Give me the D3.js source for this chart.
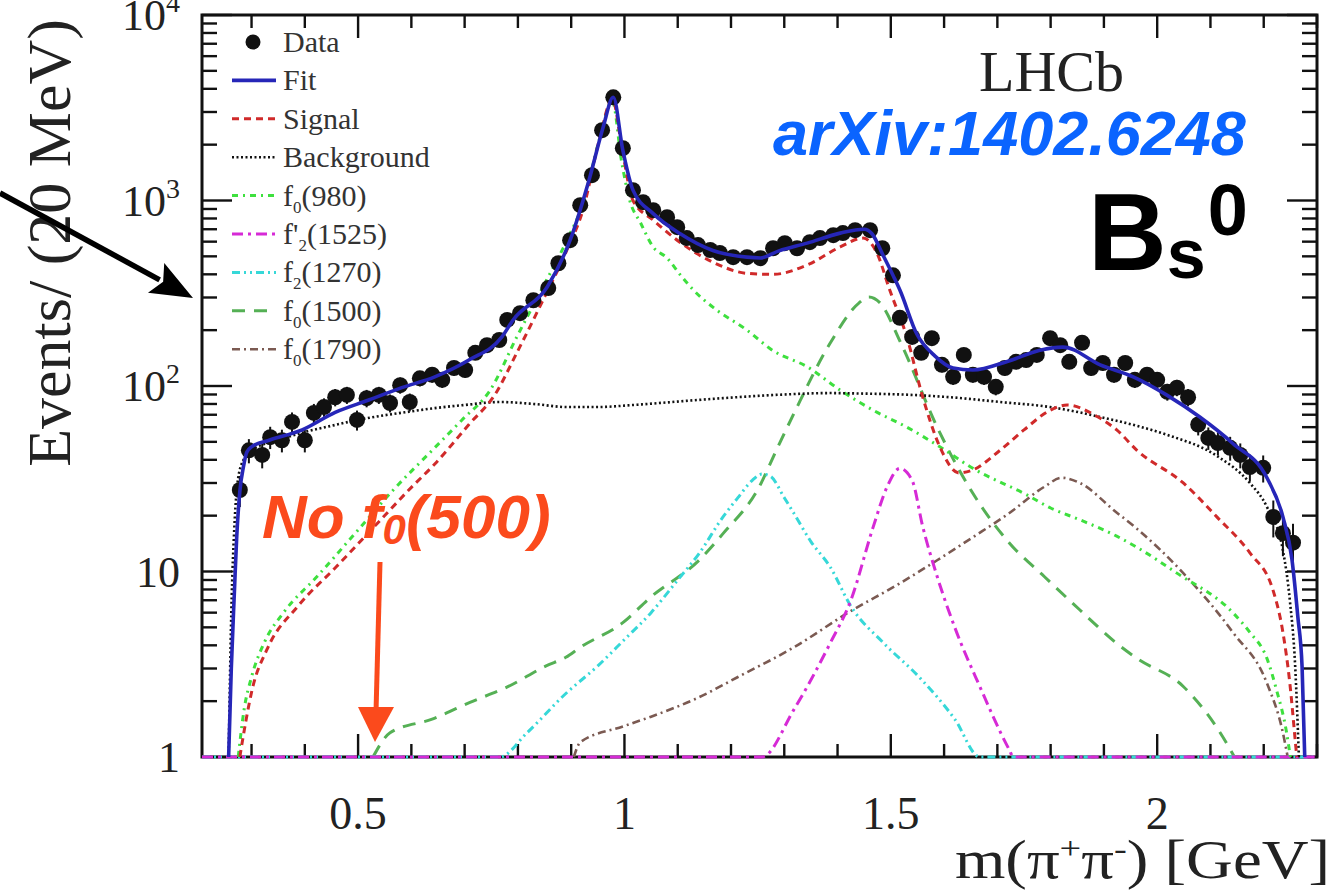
<!DOCTYPE html>
<html><head><meta charset="utf-8">
<script src="https://cdn.jsdelivr.net/npm/d3@7"></script>
<style>body{margin:0;background:#fff} svg{display:block}</style>
</head><body>
<svg id="c" width="1339" height="892"></svg>
<script>
// ---------------- DATA ----------------
const dataMass = [0.278,0.295,0.320,0.335,0.357,0.376,0.400,0.417,0.436,0.457,0.479,0.498,0.516,0.539,0.560,0.579,0.597,0.616,0.639,0.658,0.680,0.701,0.720,0.742,0.765,0.780,0.804,0.829,0.857,0.876,0.898,0.917,0.939,0.958,0.979,0.997,1.016,1.035,1.054,1.080,1.099,1.117,1.138,1.161,1.179,1.204,1.230,1.255,1.279,1.301,1.324,1.348,1.367,1.392,1.410,1.433,1.461,1.484,1.504,1.517,1.540,1.557,1.577,1.596,1.617,1.637,1.654,1.675,1.697,1.714,1.735,1.754,1.774,1.799,1.818,1.835,1.859,1.876,1.898,1.919,1.940,1.958,1.981,2.000,2.019,2.037,2.058,2.077,2.096,2.114,2.137,2.156,2.174,2.199,2.218,2.236,2.255];
const dataEvents = [27.5,45,42.5,53,51,64,51,71.6,77,87,89.5,65.6,86,89.5,81,101,82,110,115,108,125,122,151,166,177,227,247,290,337,459,611,944,1370,2393,3600,1915,1137,980,887,813,718,627,575,541,521,495,495,489,553,589,553,596,627,650,667,692,692,553,395,233,184,151,181,130,112,147,115,112,99,125,135,138,147,181,166,135,171,125,133,115,133,108,115,108,93,98,87,62,52.5,49.3,46.4,42.5,36.6,36.2,19.7,16.1,14.3];

const fitMass   = [0.257,0.262,0.268,0.272,0.278,0.285,0.291,0.300,0.333,0.395,0.457,0.520,0.582,0.644,0.708,0.770,0.791,0.855,0.898,0.935,0.960,0.979,0.997,1.016,1.054,1.104,1.166,1.230,1.255,1.290,1.343,1.405,1.450,1.465,1.485,1.506,1.517,1.549,1.583,1.617,1.654,1.720,1.780,1.823,1.893,1.955,2.019,2.080,2.142,2.206,2.236,2.253,2.264,2.272,2.277];
const fitEvents = [1,3,8,15,27,37,44,47,51,58,72,84,98,112,138,184,227,342,611,1336,2485,3600,1862,1137,850,664,538,495,490,535,589,667,700,660,510,385,329,190,145,125,122,136,156,162,130,112,89,68,49,32,19.7,11.6,5.7,3.06,1];

const signalMass   = [0.278,0.290,0.301,0.329,0.387,0.459,0.530,0.601,0.644,0.708,0.757,0.798,0.847,0.892,0.922,0.954,0.977,0.997,1.016,1.054,1.104,1.166,1.230,1.279,1.343,1.405,1.448,1.474,1.498,1.530,1.560,1.592,1.628,1.654,1.705,1.750,1.799,1.831,1.889,1.924,1.962,2.049,2.112,2.174,2.217,2.236,2.249,2.259,2.262];
const signalEvents = [1,1.6,2.3,3.8,6.5,10.6,17.4,28.6,38,62,90,151,290,541,887,2190,3540,1780,1000,784,596,465,405,400,449,562,627,520,329,184,87,47,34,35.3,45,58,74,79,68,58,45,30,19.7,12.6,8,4.7,2.5,1.24,1];

const bkgMass   = [0.257,0.262,0.268,0.275,0.285,0.300,0.350,0.391,0.450,0.504,0.600,0.644,0.700,0.766,0.830,0.892,0.950,1.016,1.136,1.185,1.300,1.386,1.450,1.520,1.611,1.705,1.799,1.855,1.893,1.962,2.019,2.112,2.174,2.206,2.236,2.249,2.259,2.266];
const bkgEvents = [1,6,18,32,40,45,51,55.6,61,66,73,76,79,82,80,77,77,79,84,86,90,91.6,91,90,87,82,77,72,68,61,54.5,42,30,22.3,13,7,3.1,1];

const f980Mass   = [0.275,0.286,0.300,0.325,0.360,0.423,0.494,0.566,0.639,0.695,0.748,0.798,0.847,0.892,0.922,0.954,0.977,0.995,1.010,1.030,1.054,1.080,1.104,1.129,1.166,1.230,1.279,1.343,1.405,1.467,1.530,1.592,1.654,1.754,1.800,1.855,1.924,1.962,2.037,2.142,2.174,2.206,2.224,2.243,2.250];
const f980Events = [1,1.8,2.7,4.2,6.0,9.4,16,27.5,45,65.6,95,184,342,611,962,2190,3450,1600,1000,760,561,490,400,330,266,200,155,127,95,74,60,47,36,26,22,19,15.5,13.5,9.8,6,4.7,3.4,2.3,1.35,1];

const f1525Mass   = [0.207,1.258,1.318,1.386,1.425,1.467,1.493,1.517,1.540,1.560,1.587,1.620,1.667,1.722,1.730,2.300];
const f1525Events = [1,1,1.8,4.1,7,17.4,28.6,36,31,17.4,9.4,5.0,2.4,1.1,1,1];

const f1270Mass   = [0.207,0.766,0.817,0.890,0.950,1.000,1.050,1.100,1.140,1.185,1.213,1.240,1.258,1.274,1.300,1.318,1.350,1.386,1.425,1.487,1.553,1.620,1.667,2.300];
const f1270Events = [1,1,1.35,2.2,3.1,4.3,6,9,12.5,19.7,25,31,33.5,32.6,25,20.6,14.5,10.6,6.5,4.1,2.7,1.6,1,1];

const f1500Mass   = [0.528,0.560,0.639,0.710,0.782,0.853,0.890,0.917,0.997,1.050,1.140,1.185,1.253,1.285,1.318,1.386,1.440,1.459,1.480,1.519,1.587,1.654,1.722,1.788,1.855,1.924,1.962,2.049,2.137,2.145];
const f1500Events = [1,1.35,1.6,1.97,2.4,3.1,3.45,3.9,5.3,7.3,11.5,16,28.6,45,71,170,280,302,280,170,60,26.4,14.3,9.4,6.2,4.1,3.4,2.4,1.1,1];

const f1790Mass   = [0.905,0.917,0.997,1.050,1.140,1.213,1.318,1.420,1.519,1.587,1.654,1.722,1.788,1.821,1.855,1.922,1.962,2.049,2.142,2.206,2.236,2.245];
const f1790Events = [1,1.2,1.46,1.65,2.1,2.7,3.9,6,8.7,11.5,15.3,20.6,28.6,32,30,21,17,9.8,4.7,2.5,1.35,1];

const xTickValues = [0.5, 1, 1.5, 2];
const xTickLabels = ["0.5", "1", "1.5", "2"];
const yTickValues = [1, 10, 100, 1000, 10000];
const yTickBase   = ["1", "10", "10", "10", "10"];
const yTickExp    = ["", "", "2", "3", "4"];

const legendKeys   = ["data","fit","signal","bkg","f980","f1525","f1270","f1500","f1790"];
const legendMain   = ["Data","Fit","Signal","Background","f","f'","f","f","f"];
const legendSub    = ["","","","","0","2","2","0","0"];
const legendTail   = ["","","","","(980)","(1525)","(1270)","(1500)","(1790)"];

// ---------------- STYLES ----------------
const styles = {
  fit:    {color:"#2626b8", width:3.6, dash:null},
  signal: {color:"#d02a2a", width:3, dash:"7,5"},
  bkg:    {color:"#111111", width:2.6, dash:"2,2.5"},
  f980:   {color:"#3ee03e", width:3, dash:"6,5,2,5"},
  f1525:  {color:"#d62ad6", width:3, dash:"11,5,3,5"},
  f1270:  {color:"#36d8d8", width:3, dash:"8,4,2,4,2,4"},
  f1500:  {color:"#55b055", width:3, dash:"13,9"},
  f1790:  {color:"#7b5a52", width:2.6, dash:"8,4,2,4"}
};

const svg = d3.select("#c");
const L = 202, R = 1317, T = 15, B = 757;
const x = d3.scaleLinear().domain([0.207, 2.3]).range([L, R]);
const y = d3.scaleLog().domain([1, 1e4]).range([B, T]);

svg.append("rect").attr("width",1339).attr("height",892).attr("fill","#fff");

svg.append("defs").append("clipPath").attr("id","clip")
  .append("rect").attr("x",L).attr("y",T-2).attr("width",R-L).attr("height",B-T+4);

// frame
svg.append("rect").attr("x",L).attr("y",T).attr("width",R-L).attr("height",B-T)
  .attr("fill","none").attr("stroke","#111").attr("stroke-width",3);

// ticks
const tickG = svg.append("g").attr("stroke","#111").attr("stroke-width",2.4);
const xt = x.ticks(20);
xt.forEach(v=>{
  const major = Math.abs(v*2 - Math.round(v*2)) < 1e-6;
  const len = major ? 23 : 13;
  tickG.append("line").attr("x1",x(v)).attr("x2",x(v)).attr("y1",B).attr("y2",B-len);
  tickG.append("line").attr("x1",x(v)).attr("x2",x(v)).attr("y1",T).attr("y2",T+len);
});
const yt = y.ticks();
yt.forEach(v=>{
  const major = Math.abs(Math.log10(v) - Math.round(Math.log10(v))) < 1e-6;
  const len = major ? 30 : 15;
  tickG.append("line").attr("x1",L).attr("x2",L+len).attr("y1",y(v)).attr("y2",y(v));
  tickG.append("line").attr("x1",R).attr("x2",R-len).attr("y1",y(v)).attr("y2",y(v));
});

// tick labels
const serif = "'Liberation Serif','Times New Roman',serif";
svg.append("g").selectAll("text").data(xTickValues).join("text")
  .attr("x",d=>x(d)).attr("y",B+72).attr("text-anchor","middle")
  .attr("font-family",serif).attr("font-size",46).attr("fill","#222")
  .text((d,i)=>xTickLabels[i]);

const yl = svg.append("g").selectAll("text").data(yTickValues).join("text")
  .attr("x",180).attr("y",d=>y(d)+15).attr("text-anchor","end")
  .attr("font-family",serif).attr("font-size",44).attr("fill","#222");
yl.append("tspan").text((d,i)=>yTickBase[i]);
yl.append("tspan").attr("font-size",28).attr("dy",-18).text((d,i)=>yTickExp[i]);

// axis titles
svg.append("text").attr("transform","translate(70,243) rotate(-90)")
  .attr("text-anchor","middle").attr("font-family",serif).attr("font-size",62).attr("fill","#222")
  .text("Events/ (20 MeV)");
const xlab = svg.append("text").attr("transform","translate(1330,878) scale(1.2,1)")
  .attr("text-anchor","end")
  .attr("font-family",serif).attr("font-size",54).attr("fill","#222");
xlab.append("tspan").text("m(π");
xlab.append("tspan").attr("font-size",32).attr("dy",-19).text("+");
xlab.append("tspan").attr("dy",19).text("π");
xlab.append("tspan").attr("font-size",32).attr("dy",-19).text("-");
xlab.append("tspan").attr("dy",19).text(") [GeV]");

// curves
const plotG = svg.append("g").attr("clip-path","url(#clip)");
const line = d3.line().x(d=>x(d[0])).y(d=>y(Math.max(1,d[1]))).curve(d3.curveMonotoneX);
const curveSets = [
  ["f1790", f1790Mass, f1790Events],
  ["f1500", f1500Mass, f1500Events],
  ["f1270", f1270Mass, f1270Events],
  ["f1525", f1525Mass, f1525Events],
  ["f980",  f980Mass,  f980Events],
  ["bkg",   bkgMass,   bkgEvents],
  ["signal",signalMass,signalEvents],
];
curveSets.forEach(([k,m,e])=>{
  const s = styles[k];
  plotG.append("path").datum(m.map((v,i)=>[v,e[i]])).attr("d",line)
    .attr("fill","none").attr("stroke",s.color).attr("stroke-width",s.width)
    .attr("stroke-dasharray",s.dash);
});

// data points
const pts = dataMass.map((m,i)=>[m,dataEvents[i]]);
plotG.append("g").selectAll("line").data(pts).join("line")
  .attr("x1",d=>x(d[0])).attr("x2",d=>x(d[0]))
  .attr("y1",d=>y(d[1]+Math.sqrt(d[1]))).attr("y2",d=>y(Math.max(1,d[1]-Math.sqrt(d[1]))))
  .attr("stroke","#111").attr("stroke-width",2);
plotG.append("g").selectAll("circle").data(pts).join("circle")
  .attr("cx",d=>x(d[0])).attr("cy",d=>y(d[1])).attr("r",8).attr("fill","#111");

// fit on top
plotG.append("path").datum(fitMass.map((v,i)=>[v,fitEvents[i]])).attr("d",line)
  .attr("fill","none").attr("stroke",styles.fit.color).attr("stroke-width",styles.fit.width);

// legend
const lg = svg.append("g");
legendKeys.forEach((k,i)=>{
  const cy = 42 + 38.4*i;
  if(k==="data"){
    lg.append("circle").attr("cx",253).attr("cy",cy).attr("r",7.5).attr("fill","#111");
  } else {
    const s = styles[k];
    lg.append("line").attr("x1",232).attr("x2",276).attr("y1",cy).attr("y2",cy)
      .attr("stroke",s.color).attr("stroke-width",s.width).attr("stroke-dasharray",s.dash);
  }
  const t = lg.append("text").attr("x",283).attr("y",cy+10).attr("font-family",serif)
    .attr("font-size",30).attr("fill","#333");
  t.append("tspan").text(legendMain[i]);
  if(legendSub[i]){
    t.append("tspan").attr("font-size",17).attr("dy",7).text(legendSub[i]);
    t.append("tspan").attr("dy",-7).text(legendTail[i]);
  }
});

// annotations
svg.append("text").attr("x",979).attr("y",91).attr("font-family",serif)
  .attr("font-size",58).attr("fill","#222").text("LHCb");
const sans = "'Liberation Sans',Arial,sans-serif";
svg.append("text").attr("x",773).attr("y",155).attr("font-family",sans)
  .attr("font-size",63).attr("font-weight","bold").attr("font-style","italic")
  .attr("fill","#0a64ff").text("arXiv:1402.6248");
const bs = svg.append("text").attr("x",1088).attr("y",270).attr("font-family",sans)
  .attr("font-weight","bold").attr("fill","#000").attr("font-size",109);
bs.append("tspan").text("B");
bs.append("tspan").attr("font-size",70).attr("dy",8).text("s");
bs.append("tspan").attr("font-size",72).attr("dy",-43).attr("dx",2).text("0");

const nf = svg.append("text").attr("x",262).attr("y",538).attr("font-family",sans)
  .attr("font-size",62).attr("font-weight","bold").attr("font-style","italic").attr("fill","#fb4a1c");
nf.append("tspan").text("No f");
nf.append("tspan").attr("font-size",42).attr("dy",6).text("0");
nf.append("tspan").attr("dy",-6).text("(500)");

// red arrow
svg.append("line").attr("x1",380).attr("y1",562).attr("x2",376).attr("y2",712)
  .attr("stroke","#fb4a1c").attr("stroke-width",5);
svg.append("path").attr("d","M358,707 L394,707 L375,742 Z").attr("fill","#fb4a1c");

// black arrow
(function(){
  const x0=0,y0=193,x1=193,y1=298;
  const dx=x1-x0, dy=y1-y0, len=Math.hypot(dx,dy), ux=dx/len, uy=dy/len;
  const hl=42, hw=17;
  const bx=x1-ux*hl, by=y1-uy*hl;
  svg.append("line").attr("x1",x0).attr("y1",y0).attr("x2",bx+ux*4).attr("y2",by+uy*4)
    .attr("stroke","#000").attr("stroke-width",5.5);
  svg.append("path").attr("d",`M${x1},${y1} L${bx-uy*hw},${by+ux*hw} L${bx+ux*8},${by+uy*8} L${bx+uy*hw},${by-ux*hw} Z`)
    .attr("fill","#000");
})();
</script>
</body></html>
